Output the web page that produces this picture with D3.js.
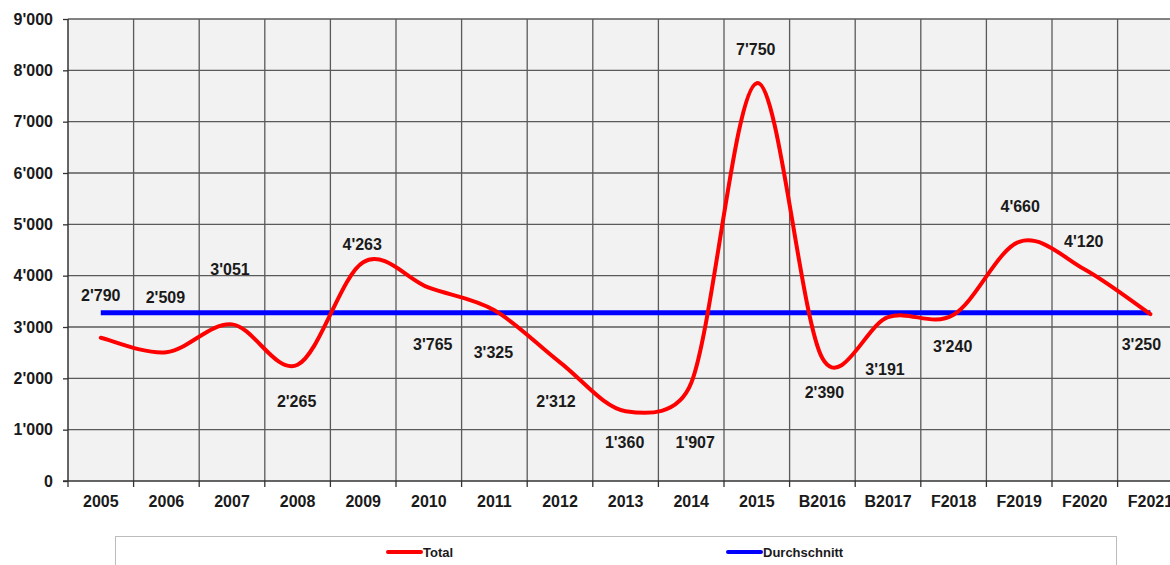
<!DOCTYPE html>
<html>
<head>
<meta charset="utf-8">
<script src="https://cdn.jsdelivr.net/npm/d3@7"></script>
<style>
	html, body { margin: 0; padding: 0; background: #fff; }
	svg { display: block; font-family: "Liberation Sans", Arial, sans-serif; font-weight: bold; }
</style>
</head>
<body>
<svg id="chart" width="1170" height="565"></svg>
<script>
// data
var categories	= ["2005", "2006", "2007", "2008", "2009", "2010", "2011", "2012", "2013", "2014", "2015", "B2016", "B2017", "F2018", "F2019", "F2020", "F2021"];
var total	= [2790, 2509, 3051, 2265, 4263, 3765, 3325, 2312, 1360, 1907, 7750, 2390, 3191, 3240, 4660, 4120, 3250];
var average	= [3280, 3280, 3280, 3280, 3280, 3280, 3280, 3280, 3280, 3280, 3280, 3280, 3280, 3280, 3280, 3280, 3280];
var yTicks	= [0, 1000, 2000, 3000, 4000, 5000, 6000, 7000, 8000, 9000];
var seriesNames	= ["Total", "Durchschnitt"];

// label placement (pixels, relative to the point)
var labelDx	= [0, -1, -2, -1, -1, 4, -1, -4, -1, 4, -1, 2, -3, -1, 1, -1, -9];
var labelDy	= [-37, -49, -49, 42, -12, 62, 48, 45, 37, 65, -28, 40, 58, 37, -30, -23, 36];

// spreadsheet-like smoothing: catmull-rom handles, capped at half the segment
function smoothPath(pts) {
	var p = d3.path(), n = pts.length;
	function tan(i) {
		var a = pts[Math.max(i - 1, 0)], b = pts[Math.min(i + 1, n - 1)];
		return [b[0] - a[0], b[1] - a[1]];
	}
	p.moveTo(pts[0][0], pts[0][1]);
	for (var i = 0; i < n - 1; i++) {
		var p1 = pts[i], p2 = pts[i + 1],
			d = Math.hypot(p2[0] - p1[0], p2[1] - p1[1]),
			t1 = tan(i), t2 = tan(i + 1),
			l1 = Math.hypot(t1[0], t1[1]) || 1, l2 = Math.hypot(t2[0], t2[1]) || 1,
			f1 = Math.min(1 / 6, d / 2 / l1),
			f2 = Math.min(1 / 6, d / 2 / l2);
		p.bezierCurveTo(p1[0] + t1[0] * f1, p1[1] + t1[1] * f1,
			p2[0] - t2[0] * f2, p2[1] - t2[1] * f2,
			p2[0], p2[1]);
	}
	return p.toString();
}

(function() {
	var svg	= d3.select("#chart"),
		pL	= 68,
		pT	= 19,
		pB	= 481,
		band	= 65.6,
		pR	= pL + band * categories.length,
		ink	= "#1a1a1a";

	var loc	= d3.formatLocale({ decimal: ".", thousands: "'", grouping: [3], currency: ["", ""] }),
		fmt	= loc.format(",d");

	var x	= d3.scaleBand().domain(categories).range([pL, pR]),
		y	= d3.scaleLinear().domain([0, 9000]).range([pB, pT]),
		cx	= function(i) { return x(categories[i]) + x.bandwidth() / 2; };

	// plot background
	svg.append("rect")
		.attr("x", pL).attr("y", pT)
		.attr("width", pR - pL).attr("height", pB - pT)
		.attr("fill", "#f2f2f2");

	// grid
	var grid = svg.append("g").attr("stroke", "#5a5a5a").attr("stroke-width", 1.3);
	grid.selectAll(".h").data(yTicks.slice(1)).enter().append("line")
		.attr("x1", pL).attr("x2", pR)
		.attr("y1", function(d) { return y(d); }).attr("y2", function(d) { return y(d); });
	grid.selectAll(".v").data(categories.slice(1)).enter().append("line")
		.attr("x1", function(d) { return x(d); }).attr("x2", function(d) { return x(d); })
		.attr("y1", pT).attr("y2", pB);

	// y axis
	var yAxis = svg.append("g").attr("transform", "translate(" + pL + ",0)")
		.call(d3.axisLeft(y).tickValues(yTicks).tickFormat(fmt).tickSize(5).tickPadding(10));
	yAxis.select(".domain").attr("stroke", "#333").attr("stroke-width", 1.5).attr("d", "M0," + pT + "V" + pB);
	yAxis.selectAll(".tick line").attr("stroke", "#333").attr("stroke-width", 1.3);
	yAxis.selectAll(".tick text").attr("fill", ink).style("font-size", "16px").style("font-weight", "bold")
		.style("font-family", "'Liberation Sans', Arial, sans-serif");

	// x axis, ticks on the band edges
	var xAxis = svg.append("g").attr("transform", "translate(0," + pB + ")");
	xAxis.append("line").attr("x1", pL - 5).attr("x2", pR).attr("stroke", "#333").attr("stroke-width", 1.5);
	xAxis.selectAll(".edge").data(categories).enter().append("line")
		.attr("x1", function(d) { return x(d); }).attr("x2", function(d) { return x(d); })
		.attr("y1", 0).attr("y2", 6)
		.attr("stroke", "#333").attr("stroke-width", 1.3);
	xAxis.selectAll("text").data(categories).enter().append("text")
		.attr("x", function(d) { return x(d) + x.bandwidth() / 2; })
		.attr("y", 26)
		.attr("text-anchor", "middle")
		.attr("fill", ink)
		.style("font-size", "16px")
		.text(function(d) { return d; });

	// series
	var line = d3.line()
		.x(function(d, i) { return cx(i); })
		.y(function(d) { return y(d); });

	svg.append("path")
		.attr("d", line(average))
		.attr("fill", "none").attr("stroke", "#0000ff").attr("stroke-width", 5);

	svg.append("path")
		.attr("d", smoothPath(total.map(function(d, i) { return [cx(i), y(d)]; })))
		.attr("fill", "none").attr("stroke", "#ff0000").attr("stroke-width", 4)
		.attr("stroke-linecap", "round").attr("stroke-linejoin", "round");

	// value labels
	svg.append("g").selectAll("text").data(total).enter().append("text")
		.attr("x", function(d, i) { return cx(i) + labelDx[i]; })
		.attr("y", function(d, i) { return y(d) + labelDy[i]; })
		.attr("text-anchor", "middle")
		.attr("fill", ink)
		.style("font-size", "16px")
		.text(function(d) { return fmt(d); });

	// legend
	var legend = svg.append("g");
	legend.append("rect")
		.attr("x", 115.5).attr("y", 536.5)
		.attr("width", 1001).attr("height", 40)
		.attr("fill", "#fff").attr("stroke", "#bcbcbc");
	var items = legend.selectAll(".item").data(seriesNames).enter().append("g")
		.attr("transform", function(d, i) { return "translate(" + [388, 728][i] + ",552)"; });
	items.append("line")
		.attr("x1", 0).attr("x2", 33)
		.attr("stroke", function(d, i) { return i ? "#0000ff" : "#ff0000"; })
		.attr("stroke-width", 4).attr("stroke-linecap", "round");
	items.append("text")
		.attr("x", 35).attr("y", 5)
		.attr("fill", ink)
		.style("font-size", "13px")
		.text(function(d) { return d; });
})();
</script>
</body>
</html>
